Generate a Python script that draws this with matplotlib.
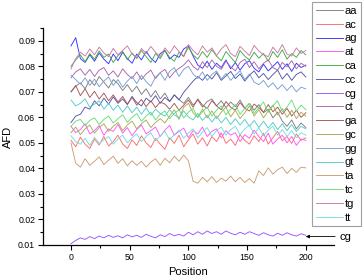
import numpy as np
import matplotlib
matplotlib.use("Agg")
import matplotlib.pyplot as plt
from matplotlib.ticker import MultipleLocator

plt.rcParams['font.family'] = ['Liberation Sans', 'DejaVu Sans']

positions = list(range(0, 201, 4))

# values in units of 1e-4
aa = [700, 722, 735, 712, 748, 725, 760, 738, 715, 748, 732, 705, 728, 700, 722, 690, 712, 680, 705, 672, 695, 662, 688, 670, 655, 678, 648, 668, 640, 662, 672, 645, 665, 638, 660, 642, 668, 635, 655, 628, 650, 618, 632, 598, 620, 585, 565, 590, 555, 578, 560]
ac = [510, 485, 522, 495, 478, 515, 492, 525, 488, 505, 530, 495, 478, 512, 490, 528, 500, 482, 518, 495, 475, 520, 498, 530, 485, 512, 535, 495, 520, 488, 525, 505, 540, 498, 515, 490, 532, 510, 495, 528, 505, 538, 495, 520, 545, 508, 525, 498, 535, 510, 520]
ag = [880, 912, 830, 815, 845, 820, 852, 828, 810, 848, 822, 855, 830, 812, 848, 825, 858, 832, 815, 850, 862, 828, 845, 835, 868, 880, 840, 805, 792, 820, 788, 812, 795, 825, 790, 815, 785, 810, 822, 792, 778, 808, 782, 800, 818, 788, 810, 780, 812, 795, 805]
at = [565, 540, 552, 575, 535, 548, 568, 530, 555, 545, 572, 538, 560, 528, 552, 570, 535, 548, 562, 525, 550, 568, 530, 545, 558, 520, 548, 535, 562, 525, 545, 555, 520, 548, 530, 540, 505, 532, 518, 550, 525, 505, 538, 495, 515, 530, 500, 525, 490, 515, 510]
ca = [800, 825, 845, 818, 850, 828, 860, 835, 848, 815, 842, 858, 826, 852, 830, 862, 838, 815, 850, 830, 862, 835, 820, 855, 838, 875, 845, 828, 858, 835, 865, 840, 822, 858, 836, 815, 862, 840, 825, 855, 832, 850, 820, 858, 835, 865, 828, 850, 835, 862, 845]
cc = [580, 605, 612, 640, 632, 665, 645, 675, 652, 680, 655, 672, 650, 682, 658, 645, 675, 660, 685, 655, 678, 662, 688, 668, 698, 720, 742, 760, 745, 768, 750, 775, 745, 762, 780, 752, 770, 742, 765, 782, 755, 772, 748, 768, 785, 750, 772, 745, 768, 778, 758]
cg = [105, 118, 128, 122, 133, 125, 135, 128, 138, 130, 136, 128, 140, 132, 138, 130, 142, 134, 128, 140, 133, 145, 136, 142, 135, 150, 140, 152, 142, 155, 145, 152, 142, 155, 146, 140, 150, 142, 152, 145, 138, 148, 140, 135, 146, 138, 148, 140, 135, 144, 138]
ct = [755, 778, 790, 765, 788, 760, 785, 795, 765, 782, 758, 790, 768, 752, 778, 748, 770, 785, 752, 775, 788, 755, 778, 792, 805, 825, 800, 785, 818, 795, 825, 800, 788, 820, 798, 782, 815, 828, 795, 818, 790, 812, 825, 795, 785, 815, 798, 822, 790, 812, 800]
ga = [700, 725, 685, 712, 678, 702, 672, 695, 665, 688, 660, 682, 652, 678, 648, 670, 642, 665, 638, 660, 652, 632, 655, 628, 648, 668, 640, 672, 648, 635, 665, 645, 630, 662, 640, 628, 658, 635, 625, 652, 638, 620, 650, 622, 640, 612, 635, 605, 628, 600, 618]
gc = [540, 562, 532, 555, 570, 538, 560, 575, 545, 565, 580, 548, 570, 585, 555, 575, 590, 560, 580, 595, 578, 605, 630, 592, 640, 655, 618, 600, 632, 598, 625, 595, 620, 640, 602, 628, 595, 618, 645, 605, 630, 598, 625, 648, 610, 635, 600, 628, 595, 620, 605]
gg = [765, 748, 730, 755, 725, 750, 720, 742, 758, 725, 748, 718, 742, 760, 732, 765, 740, 722, 758, 775, 745, 780, 795, 760, 788, 800, 770, 752, 778, 745, 768, 782, 750, 772, 745, 765, 782, 748, 770, 738, 728, 745, 718, 735, 710, 728, 705, 725, 700, 718, 712]
gt = [668, 645, 655, 672, 640, 652, 665, 632, 655, 628, 648, 620, 645, 618, 640, 612, 638, 608, 632, 615, 605, 630, 610, 598, 625, 602, 590, 615, 588, 608, 582, 605, 578, 600, 572, 595, 570, 592, 565, 588, 560, 585, 558, 580, 552, 575, 548, 572, 545, 565, 555]
ta = [500, 420, 405, 438, 412, 428, 445, 415, 432, 448, 420, 438, 410, 430, 412, 428, 405, 425, 438, 412, 440, 422, 448, 428, 452, 430, 350, 342, 365, 348, 368, 345, 362, 350, 370, 348, 365, 345, 360, 342, 390, 372, 402, 378, 395, 405, 380, 400, 385, 405, 402]
tc = [565, 585, 592, 568, 588, 598, 572, 592, 605, 578, 595, 610, 580, 600, 615, 585, 605, 620, 590, 612, 625, 595, 615, 630, 598, 620, 635, 600, 622, 640, 605, 628, 645, 610, 632, 650, 612, 635, 655, 615, 638, 660, 620, 645, 665, 622, 640, 668, 625, 648, 630]
tg = [790, 830, 855, 840, 868, 845, 875, 852, 838, 870, 845, 862, 880, 848, 835, 870, 850, 878, 855, 838, 872, 850, 880, 858, 840, 885, 862, 845, 880, 855, 872, 842, 868, 885, 850, 838, 878, 860, 842, 882, 860, 845, 838, 875, 852, 885, 848, 840, 872, 850, 862]
tt = [528, 505, 495, 518, 490, 522, 498, 512, 525, 495, 515, 530, 500, 520, 535, 505, 525, 540, 508, 528, 545, 512, 532, 550, 518, 538, 555, 520, 542, 560, 525, 548, 562, 530, 552, 565, 532, 555, 570, 535, 558, 528, 550, 565, 530, 552, 525, 548, 520, 540, 530]

labels = ['aa', 'ac', 'ag', 'at', 'ca', 'cc', 'cg', 'ct',
          'ga', 'gc', 'gg', 'gt', 'ta', 'tc', 'tg', 'tt']
series = [aa, ac, ag, at, ca, cc, cg, ct, ga, gc, gg, gt, ta, tc, tg, tt]
colors = ['#7f7f7f', '#ff6b6b', '#3333ff', '#ff55ff', '#44aa44', '#5555aa',
          '#9955ff', '#aa66aa', '#aa5555', '#aaaa55', '#77a0d0', '#55cccc',
          '#c8a070', '#66dd77', '#cc77aa', '#77dddd']

fig = plt.figure(figsize=(3.63, 2.80), dpi=100)
ax = fig.add_axes([0.118, 0.125, 0.802, 0.775])

for lab, vals, col in zip(labels, series, colors):
    assert len(vals) == len(positions), lab
    ax.plot(positions, np.array(vals) / 10000.0, color=col, lw=0.65, label=lab)

ax.set_xlim(-24, 224)
ax.set_ylim(0.01, 0.095)
ax.xaxis.set_major_locator(MultipleLocator(50))
ax.xaxis.set_minor_locator(MultipleLocator(25))
ax.yaxis.set_major_locator(MultipleLocator(0.01))
ax.yaxis.set_minor_locator(MultipleLocator(0.005))
ax.set_yticks([0.01, 0.02, 0.03, 0.04, 0.05, 0.06, 0.07, 0.08, 0.09])
ax.set_yticklabels(['0.01', '0.02', '0.03', '0.04', '0.05', '0.06', '0.07', '0.08', '0.09'])
for s in ['top', 'right']:
    ax.spines[s].set_visible(False)
for s in ['left', 'bottom']:
    ax.spines[s].set_linewidth(0.9)
ax.tick_params(which='major', direction='out', length=3.5, width=0.8, labelsize=6.3, pad=2)
ax.tick_params(which='minor', direction='out', length=2, width=0.8)

ax.set_xlabel('Position', fontsize=8, labelpad=4)
ax.set_ylabel('AFD', fontsize=8, labelpad=4)

ax.annotate('', xy=(200, 0.0133), xytext=(225, 0.0133),
            arrowprops=dict(arrowstyle='-|>', color='black', lw=0.6,
                            mutation_scale=5, shrinkA=0, shrinkB=0),
            annotation_clip=False)
ax.text(229, 0.0133, 'cg', fontsize=8, va='center', ha='left', clip_on=False)

leg = fig.legend(loc='upper left', bbox_to_anchor=(312 / 363, 1 - 2 / 280),
                 fontsize=8, frameon=True, fancybox=False, handlelength=2.4,
                 handletextpad=0.2, labelspacing=0.34, borderpad=0.35,
                 borderaxespad=0)
leg.get_frame().set_edgecolor('#888888')
leg.get_frame().set_linewidth(0.8)

fig.savefig('out.png', dpi=100)
